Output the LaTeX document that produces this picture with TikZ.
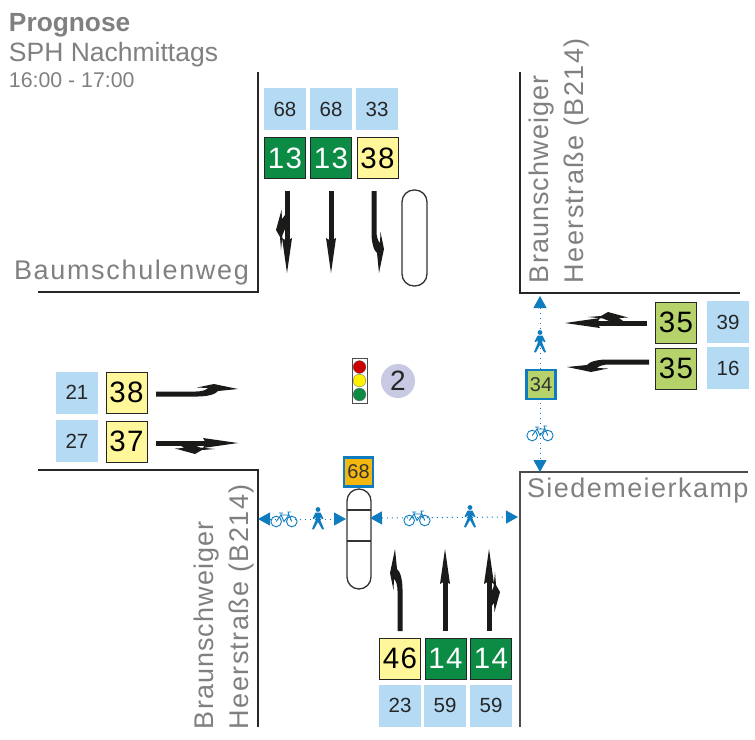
\documentclass[tikz,border=0pt]{standalone}
\usepackage{fontspec}
\setmainfont{Liberation Sans}
\newfontfamily\roadfont[LetterSpace=4]{Liberation Sans}
\newfontfamily\heerfont[LetterSpace=5.2]{Liberation Sans}
\newfontfamily\hroadfont[LetterSpace=5.4]{Liberation Sans}
\newfontfamily\baumfont[LetterSpace=6.2]{Liberation Sans}
\newfontfamily\digitfont[LetterSpace=5]{Liberation Sans}
\usetikzlibrary{arrows.meta}
\definecolor{lblue}{HTML}{B5DAF4}
\definecolor{sgreen}{HTML}{0B8B44}
\definecolor{syellow}{HTML}{FFF799}
\definecolor{solive}{HTML}{B5D36A}
\definecolor{sorange}{HTML}{F3B70F}
\definecolor{cblue}{HTML}{0F7CC0}
\definecolor{dgray}{HTML}{808080}
\definecolor{arrowk}{HTML}{1A1A18}
\definecolor{diskc}{HTML}{C7CAE2}
\newcommand{\fs}[1]{\fontsize{#1}{#1}\selectfont}
\tikzset{
  every node/.style={inner sep=0pt,outer sep=0pt},
  demand/.style={fill=lblue,minimum width=42pt,minimum height=42pt,text=black!85,font=\fs{20.5}},
  qbox/.style={draw=black!85,line width=1pt,minimum width=41pt,minimum height=41pt,font=\fs{29.5}\digitfont},
  qgreen/.style={qbox,fill=sgreen,text=white},
  qyellow/.style={qbox,fill=syellow,text=black},
  qolive/.style={qbox,fill=solive,text=black},
  sigbox/.style={draw=cblue,line width=2.5pt,minimum width=29pt,minimum height=29pt,font=\fs{20},text=black!80},
  road/.style={line width=1.4pt,draw=black!85},
  island/.style={line width=1.3pt,draw=black!80,fill=white,rounded corners=12pt},
  roadlabel/.style={text=dgray,font=\fs{27}\roadfont,anchor=base west},
  heerlabel/.style={text=dgray,font=\fs{27}\heerfont,anchor=base west},
  hroadlabel/.style={text=dgray,font=\fs{27}\hroadfont,anchor=base west},
  baumlabel/.style={text=dgray,font=\fs{27}\baumfont,anchor=base west},
  pedway/.style={cblue,line width=1pt,dash pattern=on 1pt off 4pt,{Triangle[length=12pt,width=13pt]}-{Triangle[length=12pt,width=13pt]}},
  thru/.pic={
    \fill[arrowk] (-2.5,0) -- (-2.5,-50) -- (2.5,-50) -- (2.5,0) -- cycle;
    \fill[arrowk] (-5,-47) -- (0,-82) -- (5,-47) -- (0,-50) -- cycle;
  },
  thruR/.pic={
    \fill[arrowk] (-2.5,0) -- (-2.5,-50) -- (2.5,-50) -- (2.5,0) -- cycle;
    \fill[arrowk] (-5,-47) -- (0,-82) -- (5,-47) -- (0,-50) -- cycle;
    \fill[arrowk] (6,-59) -- (7,-46) -- (11,-39) -- (5.5,-19) -- (5,-28) -- (2,-24) -- (2,-38) -- (4.5,-44) -- cycle;
  },
  turnL/.pic={
    \fill[arrowk] (2.5,0) -- (2.5,-42) .. controls (2.5,-52) and (0,-60) .. (-3,-62) -- (-5,-82)
      -- (-8.5,-65) -- (-10,-58) -- (-6.5,-41) -- (-6,-52) .. controls (-4,-50) and (-2.5,-46) .. (-2.5,-40) -- (-2.5,0) -- cycle;
  },
  bike/.pic={
    \draw[cblue,line width=.9pt] (-7.8,2.5) circle (5.3) (7.8,2.5) circle (5.3);
    \draw[cblue,line width=.9pt] (-7.8,2.5) -- (-3,-4) -- (5,-4) -- (7.8,2.5) (-3,-4) -- (0,2.5) -- (5,-4) (-5,-6) -- (-1,-6) (-3,-4) -- (-3,-6) (5,-4) -- (4,-7) -- (7,-7);
  },
  ped/.pic={
    \fill[cblue] (0,-9.5) circle (2.4);
    \fill[cblue] (-2.4,-6.5) -- (2.4,-6.5) -- (5.5,-0.5) -- (4,0) -- (2.4,-2) -- (2.5,1.5) -- (6,10) -- (4.2,10.5) -- (0,3) -- (-4.2,10.5) -- (-6,10) -- (-2.5,1.5) -- (-2.4,-2) -- (-4,0) -- (-5.5,-0.5) -- cycle;
  },
}
\begin{document}
\begin{tikzpicture}[x=1pt,y=-1pt]
\useasboundingbox (0,0) rectangle (755,739);
\fill[white] (0,0) rectangle (755,739);
% title
\node[anchor=base west,text=dgray,font=\fs{26.3}\bfseries] (title) at (9,31) {Prognose};
\node[anchor=base west,text=dgray,font=\fs{26.5}] (sub) at (9,61) {SPH Nachmittags};
\node[anchor=base west,text=dgray,font=\fs{21.3}] (time) at (9,87) {16:00 - 17:00};
% roads
\draw[road] (258,72) -- (258,292) -- (38,292);
\draw[road] (520,72) -- (520,293) -- (740,293);
\draw[road] (38,470) -- (258,470) -- (258,727);
\draw[road,draw=black!70] (748,472) -- (520,472) -- (520,727);
% road labels
\node[baumlabel] (l1) at (14,279) {Baumschulenweg};
\node[hroadlabel] (l2) at (527,497) {Siedemeierkamp};
\node[roadlabel,rotate=90] (l3) at (548,283) {Braunschweiger};
\node[heerlabel,rotate=90] (l4) at (583,283) {Heerstraße (B214)};
\node[roadlabel,rotate=90] (l5) at (213,729) {Braunschweiger};
\node[heerlabel,rotate=90] (l6) at (248,729) {Heerstraße (B214)};
% islands
\draw[island] (402,190) rectangle (427,286);
\draw[island] (347,489) rectangle (371,589);
\draw[line width=1.3pt,draw=black!80] (347,510) -- (371,510) (347,541) -- (371,541);
% crossings
\coordinate (cA) at (258,519); \coordinate (cB) at (346,519);
\coordinate (cC) at (370,518); \coordinate (cD) at (518,517);
\coordinate (cE) at (540,296); \coordinate (cF) at (540,472);
\draw[pedway] (cA) -- (cB);
\draw[pedway] (cC) -- (cD);
\draw[pedway] (cE) -- (cF);
\pic at (284,519) {bike};
\pic at (318,519) {ped};
\pic at (417,518) {bike};
\pic at (470,517) {ped};
\pic at (540,342) {ped};
\pic at (540,433) {bike};
% signal boxes
\node[sigbox,fill=sorange] (s68) at (358.5,472) {68};
\node[sigbox,fill=solive] (s34) at (541,384.5) {34};
% traffic light
\draw[line width=.8pt,draw=black!70] (352,358) rectangle (367,403);
\filldraw[draw=black!60,line width=.3pt,fill=red!80!black] (359.5,367) circle (6.4);
\filldraw[draw=black!60,line width=.3pt,fill=yellow] (359.5,380.5) circle (6.4);
\filldraw[draw=black!60,line width=.3pt,fill=sgreen] (359.5,394.5) circle (6.4);
\node[circle,fill=diskc,minimum size=34pt,font=\fs{28},text=black!85] (num) at (398,381) {2};
% top
\node[demand] (t1) at (285,109) {68};
\node[demand] (t2) at (331,109) {68};
\node[demand] (t3) at (377,109) {33};
\node[qgreen] (q1) at (285,158) {13};
\node[qgreen] (q2) at (331,158) {13};
\node[qyellow] (q3) at (377.5,158) {38};
\pic[rotate=180] at (287,191) {thruR};
\pic[rotate=180] at (331,191) {thru};
\pic[rotate=180] at (374,191) {turnL};
% right
\node[qolive] (q4) at (676,322.5) {35};
\node[qolive] (q5) at (676,368.5) {35};
\node[demand] (r1) at (728,322) {39};
\node[demand] (r2) at (728,368) {16};
\pic[rotate=90] at (647,323) {thruR};
\pic[rotate=90] at (649,362) {turnL};
% left
\node[demand] (w1) at (77,392.5) {21};
\node[demand] (w2) at (77,441) {27};
\node[qyellow] (q6) at (126.5,392.5) {38};
\node[qyellow] (q7) at (126.5,441.5) {37};
\pic[rotate=-90] at (156,394) {turnL};
\pic[rotate=-90] at (156,443) {thruR};
% bottom
\node[qyellow] (q8) at (400,658.5) {46};
\node[qgreen] (q9) at (445.5,658.5) {14};
\node[qgreen] (q10) at (491,658.5) {14};
\node[demand] (b1) at (400,705.5) {23};
\node[demand] (b2) at (445,705.5) {59};
\node[demand] (b3) at (491,705.5) {59};
\pic at (400,631) {turnL};
\pic at (445,631) {thru};
\pic at (489,631) {thruR};
\end{tikzpicture}
\end{document}
